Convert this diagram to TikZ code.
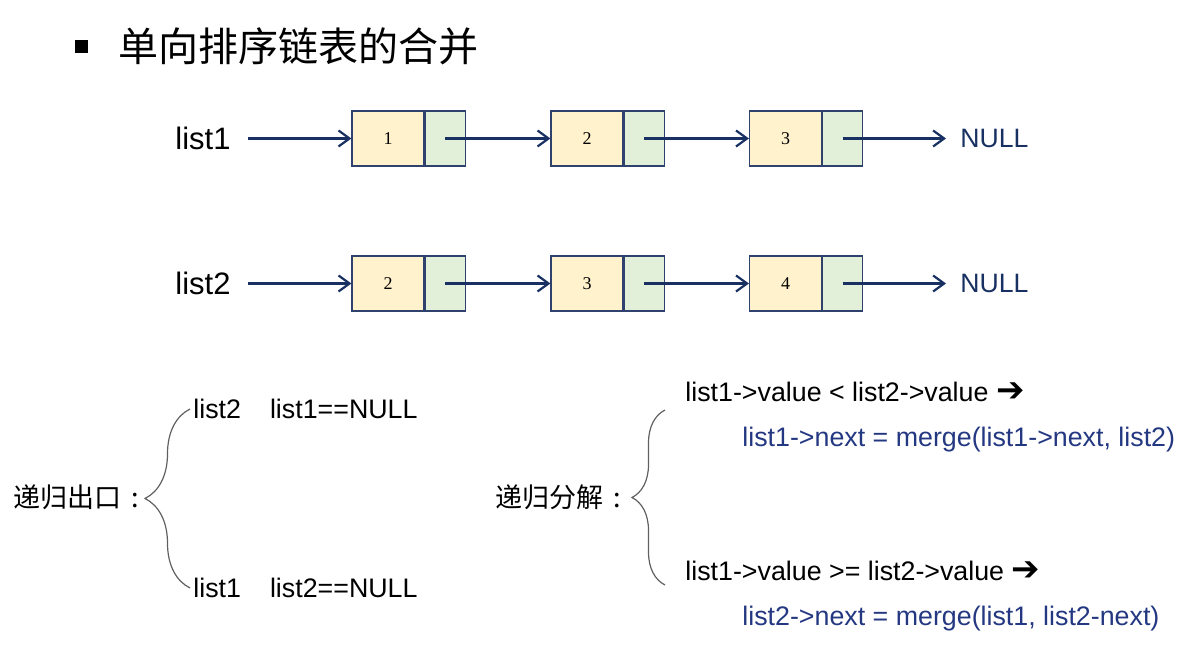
\documentclass[tikz,border=0pt]{standalone}
\usepackage{fontspec}
\setmainfont{Liberation Sans}
\newfontfamily\cjk{Noto Sans CJK SC}
\newfontfamily\symfont{DejaVu Sans}
\newfontfamily\numfont{Liberation Serif}
\usetikzlibrary{arrows.meta,positioning,decorations.pathreplacing}
\definecolor{boxline}{RGB}{47,66,110}
\definecolor{valfill}{RGB}{255,242,204}
\definecolor{ptrfill}{RGB}{226,240,217}
\definecolor{navy}{RGB}{24,48,98}
\definecolor{codeblue}{RGB}{36,56,130}
\tikzset{
  valbox/.style={draw=boxline, fill=valfill, line width=0.6pt, minimum width=36pt,
    minimum height=27.5pt, inner sep=0pt, font=\numfont\fontsize{9}{10}\selectfont},
  ptrbox/.style={draw=boxline, fill=ptrfill, line width=0.6pt, minimum width=20pt,
    minimum height=27.5pt, inner sep=0pt},
  ptrln/.style={-{Straight Barb[length=5.5pt,width=8pt,line width=1.1pt]}, line width=1.1pt, navy},
  listlbl/.style={font=\fontsize{15.5}{18}\selectfont, inner sep=0pt, anchor=west},
  nullnode/.style={navy, font=\fontsize{13.3}{16}\selectfont, inner sep=7pt, anchor=west},
  casetxt/.style={font=\fontsize{13.4}{16}\selectfont, inner sep=0pt, anchor=west},
  codetxt/.style={casetxt, codeblue},
  cjklbl/.style={font=\cjk\fontsize{13.5}{16}\selectfont, inner sep=0pt, anchor=west},
  bracel/.style={decorate, decoration={brace, amplitude=#1}, gray!75!black, line width=0.6pt},
}
\newcommand{\thenarrow}{{\symfont\fontsize{17}{17}\selectfont ➔}}

\begin{document}
\begin{tikzpicture}[x=0.5pt, y=-0.5pt]
    \useasboundingbox (0,0) rectangle (1189,651);
    % heading
    \node[fill, minimum size=6.5pt, inner sep=0pt] (bul) at (81.5,46.5) {};
    \node[font=\cjk\fontsize{20}{24}\selectfont, anchor=west, inner sep=0pt] (title) at (118,46) {单向排序链表的合并};
    % list1: 1 -> 2 -> 3
    \foreach \v/\x [count=\i] in {1/388,2/587,3/785.5} {
      \node[valbox] (a\i) at (\x,138.5) {\v};
      \node[ptrbox, right=0pt of a\i] (ap\i) {};
    }
    \node[listlbl] (l1) at (175,138.5) {list1};
    \node[nullnode] (n1) at (946,138.5) {NULL};
    \draw[ptrln] ([xshift=8.5pt]l1.east) -- (a1.west);
    \draw[ptrln] (ap1.center) -- (a2.west);
    \draw[ptrln] (ap2.center) -- (a3.west);
    \draw[ptrln] (ap3.center) -- (n1.west);
    % list2: 2 -> 3 -> 4
    \foreach \v/\x [count=\i] in {2/388,3/587,4/785.5} {
      \node[valbox] (b\i) at (\x,283.5) {\v};
      \node[ptrbox, right=0pt of b\i] (bp\i) {};
    }
    \node[listlbl] (l2) at (175,283.5) {list2};
    \node[nullnode] (n2) at (946,283.5) {NULL};
    \draw[ptrln] ([xshift=8.5pt]l2.east) -- (b1.west);
    \draw[ptrln] (bp1.center) -- (b2.west);
    \draw[ptrln] (bp2.center) -- (b3.west);
    \draw[ptrln] (bp3.center) -- (n2.west);
    % base cases
    \node[cjklbl] (exit) at (13,497) {递归出口\hspace{5pt}:};
    \node[casetxt] (ex1) at (193,409) {list2\hspace{14.5pt}list1==NULL};
    \node[casetxt] (ex2) at (193,588) {list1\hspace{14.5pt}list2==NULL};
    \draw[bracel=22.5pt] ([xshift=-1.5pt]ex2.west) -- ([xshift=-1.5pt]ex1.west);
    % recursive step
    \node[cjklbl] (split) at (495,497) {递归分解\hspace{5pt}:};
    \coordinate (bt) at (665,410);
    \coordinate (bb) at (665,585);
    \draw[bracel=16.5pt] (bb) -- (bt);
    \node[casetxt] (c1) at (685,392) {list1->value < list2->value \thenarrow};
    \node[codetxt] (m1) at (742,440) {list1->next = merge(list1->next, list2)};
    \node[casetxt] (c2) at (685,571) {list1->value >= list2->value \thenarrow};
    \node[codetxt] (m2) at (742,619) {list2->next = merge(list1, list2-next)};
\end{tikzpicture}
\end{document}
